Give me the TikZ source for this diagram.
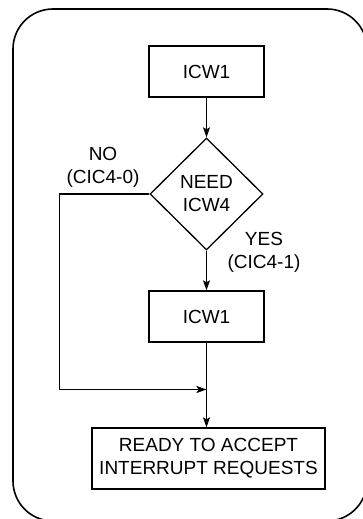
\documentclass[tikz,border=0pt]{standalone}
\usepackage{fontspec}
\setmainfont{Liberation Sans}
\usetikzlibrary{arrows.meta,shapes.geometric}
\begin{document}
\begin{tikzpicture}[x=1pt,y=-1pt,line width=1.3pt,
  txt/.style={font=\fontsize{19}{23}\selectfont,align=center},
  box/.style={draw,rectangle,inner sep=0pt,txt},
  test/.style={draw,diamond,inner sep=0pt,minimum width=113pt,minimum height=112pt,txt},
  arr/.style={-{Stealth[length=10pt,width=7pt,inset=2pt]}}]
\useasboundingbox (0,0) rectangle (362,519);
\draw[line width=1.6pt,rounded corners=40pt] (13,9) rectangle (367,521);
\node[box,minimum width=115pt,minimum height=51pt] (w1) at (206.5,71.5) {ICW1};
\node[test] (need) at (206.5,194) {NEED\\ICW4};
\node[box,minimum width=115pt,minimum height=51pt] (w4) at (206.5,316.5) {ICW1};
\node[box,minimum width=233pt,minimum height=61pt] (ready) at (208.5,458.5) {READY TO ACCEPT\\INTERRUPT REQUESTS};
\node[txt] (no) at (103,167) {NO\\(CIC4-0)};
\node[txt] (yes) at (264,252) {YES\\(CIC4-1)};
\coordinate (join) at (206.5,389.5);
\path[arr]
  (w1) edge (need)
  (need) edge (w4)
  (w4.south) edge (ready.north -| w4.south)
;
\draw[arr] (need.west) -- ++(-90,0) |- (join);
\end{tikzpicture}
\end{document}
